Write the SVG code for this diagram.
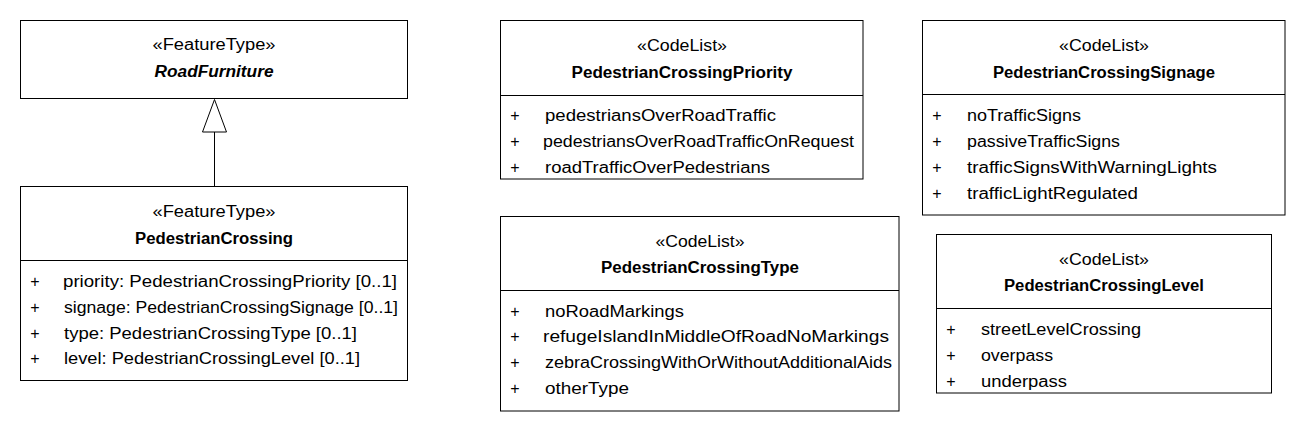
<svg xmlns="http://www.w3.org/2000/svg" width="1306" height="432" viewBox="0 0 1306 432">
<style>
.box{fill:#fff;stroke:#000;stroke-width:1}
.div{stroke:#000;stroke-width:1}
text{font-family:"Liberation Sans",Arial,sans-serif;font-size:16px;fill:#000}
.c{text-anchor:middle}
.b{font-weight:bold}
.bi{font-weight:bold;font-style:italic}
.p{text-anchor:middle}
.conn{stroke:#000;stroke-width:1;fill:none}
</style>
<rect width="1306" height="432" fill="#fff"/>
<g id="RoadFurniture">
<rect class="box" x="20.5" y="20.5" width="387" height="78"/>
<text class="c" x="214" y="50" textLength="123" lengthAdjust="spacingAndGlyphs">«FeatureType»</text>
<text class="c bi" x="214" y="76.5" textLength="119" lengthAdjust="spacingAndGlyphs">RoadFurniture</text>
</g>
<g id="PedestrianCrossing">
<rect class="box" x="20.5" y="186.5" width="387" height="194"/>
<line class="div" x1="20.5" y1="260.5" x2="407.5" y2="260.5"/>
<text class="c" x="214" y="216.5" textLength="123" lengthAdjust="spacingAndGlyphs">«FeatureType»</text>
<text class="c b" x="214" y="243.5" textLength="158" lengthAdjust="spacingAndGlyphs">PedestrianCrossing</text>
<text class="p" x="35" y="287">+</text>
<text x="63" y="287" textLength="334" lengthAdjust="spacingAndGlyphs">priority: PedestrianCrossingPriority [0..1]</text>
<text class="p" x="35" y="313">+</text>
<text x="64" y="313" textLength="334" lengthAdjust="spacingAndGlyphs">signage: PedestrianCrossingSignage [0..1]</text>
<text class="p" x="35" y="338.5">+</text>
<text x="64" y="338.5" textLength="293" lengthAdjust="spacingAndGlyphs">type: PedestrianCrossingType [0..1]</text>
<text class="p" x="35" y="364">+</text>
<text x="64" y="364" textLength="296" lengthAdjust="spacingAndGlyphs">level: PedestrianCrossingLevel [0..1]</text>
</g>
<g id="PedestrianCrossingPriority">
<rect class="box" x="500.5" y="20.5" width="362.5" height="158.5"/>
<line class="div" x1="500.5" y1="95.5" x2="863" y2="95.5"/>
<text class="c" x="682" y="51" textLength="90" lengthAdjust="spacingAndGlyphs">«CodeList»</text>
<text class="c b" x="682" y="77.5" textLength="221" lengthAdjust="spacingAndGlyphs">PedestrianCrossingPriority</text>
<text class="p" x="515" y="121">+</text>
<text x="545" y="121" textLength="231" lengthAdjust="spacingAndGlyphs">pedestriansOverRoadTraffic</text>
<text class="p" x="515" y="147">+</text>
<text x="543" y="147" textLength="311" lengthAdjust="spacingAndGlyphs">pedestriansOverRoadTrafficOnRequest</text>
<text class="p" x="515" y="172.5">+</text>
<text x="545" y="172.5" textLength="225" lengthAdjust="spacingAndGlyphs">roadTrafficOverPedestrians</text>
</g>
<g id="PedestrianCrossingType">
<rect class="box" x="500.5" y="216.5" width="398.5" height="194.5"/>
<line class="div" x1="500.5" y1="290.5" x2="899" y2="290.5"/>
<text class="c" x="700" y="246.5" textLength="89" lengthAdjust="spacingAndGlyphs">«CodeList»</text>
<text class="c b" x="700" y="272.5" textLength="198" lengthAdjust="spacingAndGlyphs">PedestrianCrossingType</text>
<text class="p" x="515" y="316.5">+</text>
<text x="545" y="316.5" textLength="139" lengthAdjust="spacingAndGlyphs">noRoadMarkings</text>
<text class="p" x="515" y="342">+</text>
<text x="543" y="342" textLength="346" lengthAdjust="spacingAndGlyphs">refugeIslandInMiddleOfRoadNoMarkings</text>
<text class="p" x="515" y="367.5">+</text>
<text x="545" y="367.5" textLength="347" lengthAdjust="spacingAndGlyphs">zebraCrossingWithOrWithoutAdditionalAids</text>
<text class="p" x="515" y="394">+</text>
<text x="545" y="394" textLength="84" lengthAdjust="spacingAndGlyphs">otherType</text>
</g>
<g id="PedestrianCrossingSignage">
<rect class="box" x="922.5" y="20.5" width="362.5" height="194.5"/>
<line class="div" x1="922.5" y1="94.5" x2="1285" y2="94.5"/>
<text class="c" x="1104" y="51" textLength="90" lengthAdjust="spacingAndGlyphs">«CodeList»</text>
<text class="c b" x="1104" y="77.5" textLength="222" lengthAdjust="spacingAndGlyphs">PedestrianCrossingSignage</text>
<text class="p" x="937" y="121">+</text>
<text x="967" y="121" textLength="114" lengthAdjust="spacingAndGlyphs">noTrafficSigns</text>
<text class="p" x="937" y="146.5">+</text>
<text x="967" y="146.5" textLength="153" lengthAdjust="spacingAndGlyphs">passiveTrafficSigns</text>
<text class="p" x="937" y="172.5">+</text>
<text x="967" y="172.5" textLength="250" lengthAdjust="spacingAndGlyphs">trafficSignsWithWarningLights</text>
<text class="p" x="937" y="198.5">+</text>
<text x="967" y="198.5" textLength="171" lengthAdjust="spacingAndGlyphs">trafficLightRegulated</text>
</g>
<g id="PedestrianCrossingLevel">
<rect class="box" x="936.5" y="234.5" width="335" height="158.5"/>
<line class="div" x1="936.5" y1="308.5" x2="1271.5" y2="308.5"/>
<text class="c" x="1104" y="264.5" textLength="90" lengthAdjust="spacingAndGlyphs">«CodeList»</text>
<text class="c b" x="1104" y="290.5" textLength="200" lengthAdjust="spacingAndGlyphs">PedestrianCrossingLevel</text>
<text class="p" x="951" y="335">+</text>
<text x="981" y="335" textLength="160" lengthAdjust="spacingAndGlyphs">streetLevelCrossing</text>
<text class="p" x="951" y="360.5">+</text>
<text x="981" y="360.5" textLength="72" lengthAdjust="spacingAndGlyphs">overpass</text>
<text class="p" x="951" y="386.5">+</text>
<text x="981" y="386.5" textLength="86" lengthAdjust="spacingAndGlyphs">underpass</text>
</g>
<g id="connectors">
<line class="conn" x1="214.5" y1="132" x2="214.5" y2="186.5"/>
<polygon class="conn" points="214.5,99.5 202.5,132 226.5,132" fill="#fff" style="fill:#fff"/>
</g>
</svg>
